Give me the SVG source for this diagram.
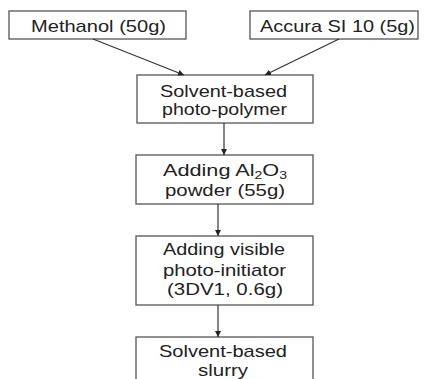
<svg xmlns="http://www.w3.org/2000/svg" width="424" height="379" viewBox="0 0 424 379">
<style>
.n{fill:#fff;stroke:#555;stroke-width:1.3}
text{font-family:"Liberation Sans",Arial,sans-serif;font-size:17px;fill:#222;text-anchor:middle}
.c line{stroke:#333;stroke-width:1.2;marker-end:url(#a)}
</style>
<defs><marker id="a" viewBox="0 0 8 8" refX="8" refY="4" markerWidth="6" markerHeight="6" orient="auto" markerUnits="userSpaceOnUse"><path d="M0,0L8,4L0,8z" fill="#222"/></marker></defs>
<rect x="0" y="0" width="424" height="379" fill="#fff"/>
<g id="methanol"><rect class="n" x="9" y="11" width="177" height="28"/><text x="98.5" y="32" textLength="135" lengthAdjust="spacingAndGlyphs">Methanol (50g)</text></g>
<g id="accura"><rect class="n" x="250" y="11" width="168" height="28"/><text x="337.5" y="32" textLength="155" lengthAdjust="spacingAndGlyphs">Accura SI 10 (5g)</text></g>
<g id="polymer"><rect class="n" x="137" y="75" width="176" height="48"/><text x="223.5" y="97" textLength="127" lengthAdjust="spacingAndGlyphs">Solvent-based</text><text x="224.5" y="115" textLength="125" lengthAdjust="spacingAndGlyphs">photo-polymer</text></g>
<g id="al2o3"><rect class="n" x="136" y="155" width="177" height="49"/><text x="225" y="176" textLength="124" lengthAdjust="spacingAndGlyphs">Adding Al<tspan font-size="11" dy="3">2</tspan><tspan dy="-3">O</tspan><tspan font-size="11" dy="3">3</tspan></text><text x="225" y="196" textLength="120" lengthAdjust="spacingAndGlyphs">powder (55g)</text></g>
<g id="initiator"><rect class="n" x="136" y="236" width="177" height="69"/><text x="224" y="255" textLength="122" lengthAdjust="spacingAndGlyphs">Adding visible</text><text x="224.5" y="276" textLength="123" lengthAdjust="spacingAndGlyphs">photo-initiator</text><text x="225" y="295" textLength="116" lengthAdjust="spacingAndGlyphs">(3DV1, 0.6g)</text></g>
<g id="slurry"><rect class="n" x="136" y="337" width="177" height="50"/><text x="223" y="357" textLength="128" lengthAdjust="spacingAndGlyphs">Solvent-based</text><text x="223" y="376" textLength="50" lengthAdjust="spacingAndGlyphs">slurry</text></g>
<g class="c" id="connectors">
<line x1="93" y1="39" x2="184" y2="75"/>
<line x1="339" y1="39" x2="265" y2="75"/>
<line x1="224" y1="123" x2="224" y2="155"/>
<line x1="218" y1="204" x2="218" y2="236"/>
<line x1="218" y1="305" x2="218" y2="337"/>
</g>
</svg>
